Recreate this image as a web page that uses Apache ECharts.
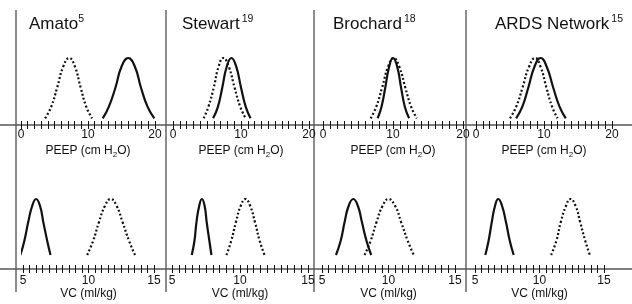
<!DOCTYPE html>
<html>
<head>
<meta charset="utf-8">
<script src="https://cdn.jsdelivr.net/npm/echarts@6/dist/echarts.min.js"></script>
<style>
html,body{margin:0;padding:0;background:#fff}
#chart{width:632px;height:304px}
</style>
</head>
<body>
<div id="chart"></div>
<script>
var FONT = '"Liberation Sans", Arial, Helvetica, sans-serif';

var studies = ['Amato', 'Stewart', 'Brochard', 'ARDS Network'];
var refs = ['5', '19', '18', '15'];
var peepTicks = [0, 10, 20];
var vcTicks = [5, 10, 15];

// relative height of each curve, start .. peak .. end
var peepHeights = [0.1, 0.27, 0.56, 0.87, 1, 0.87, 0.56, 0.27, 0.1];
var vcHeights = [0.2, 0.4, 0.67, 0.9, 1, 0.9, 0.67, 0.4, 0.2];

// PEEP (cm H2O) : solid / dotted
var amatoPeepSolid = [12.2, 13.1, 14.1, 15.0, 16.0, 17.0, 17.9, 18.9, 19.9];
var amatoPeepDot = [3.6, 4.5, 5.4, 6.3, 7.2, 8.05, 8.9, 9.75, 10.6];
var stewartPeepSolid = [5.9, 6.6, 7.25, 7.9, 8.6, 9.3, 10.0, 10.7, 11.4];
var stewartPeepDot = [4.5, 5.2, 6.0, 6.7, 7.4, 8.2, 9.05, 9.9, 10.7];
var brochardPeepSolid = [7.8, 8.35, 8.9, 9.45, 10.0, 10.6, 11.15, 11.7, 12.3];
var brochardPeepDot = [6.8, 7.6, 8.45, 9.3, 10.1, 10.9, 11.75, 12.6, 13.4];
var ardsPeepSolid = [5.9, 6.8, 7.7, 8.6, 9.5, 10.4, 11.35, 12.3, 13.2];
var ardsPeepDot = [5.0, 5.9, 6.85, 7.8, 8.7, 9.5, 10.35, 11.2, 12.0];

// VC (ml/kg) : solid / dotted
var amatoVcSolid = [4.8, 5.1, 5.4, 5.7, 6.0, 6.3, 6.55, 6.85, 7.1];
var amatoVcDot = [9.9, 10.35, 10.8, 11.25, 11.7, 12.15, 12.6, 13.1, 13.55];
var stewartVcSolid = [6.45, 6.65, 6.8, 7.0, 7.2, 7.4, 7.55, 7.75, 7.9];
var stewartVcDot = [9.0, 9.35, 9.7, 10.05, 10.4, 10.75, 11.1, 11.45, 11.8];
var brochardVcSolid = [6.05, 6.4, 6.7, 7.0, 7.35, 7.7, 8.0, 8.35, 8.7];
var brochardVcDot = [8.2, 8.65, 9.1, 9.55, 10.0, 10.5, 10.95, 11.45, 11.9];
var ardsVcSolid = [5.8, 6.05, 6.3, 6.55, 6.8, 7.1, 7.4, 7.7, 8.0];
var ardsVcDot = [10.9, 11.3, 11.65, 12.05, 12.4, 12.8, 13.15, 13.55, 13.9];

var peepCurves = [
  [amatoPeepSolid, amatoPeepDot],
  [stewartPeepSolid, stewartPeepDot],
  [brochardPeepSolid, brochardPeepDot],
  [ardsPeepSolid, ardsPeepDot]
];
var vcCurves = [
  [amatoVcSolid, amatoVcDot],
  [stewartVcSolid, stewartVcDot],
  [brochardVcSolid, brochardVcDot],
  [ardsVcSolid, ardsVcDot]
];

// panel layout
var topLeft = [21, 173, 323, 476], topRight = [155, 309, 463, 612];
var botLeft = [23, 172, 322, 475], botRight = [154, 308, 455, 604];
var sepX = [16, 166, 314, 466];
var titleX = [29, 182, 333, 495];
var topAxisY = 125, botAxisY = 269;

function pairs(xs, hs) {
  return xs.map(function (x, i) { return [x, hs[i]]; });
}

var grids = [], xAxes = [], yAxes = [], series = [], titles = [];

function addPanel(left, right, top, bottom, min, max, step, ticks, name, labelMargin, nameGap, curves, heights) {
  var gi = grids.length;
  grids.push({ left: left, width: right - left, top: top, height: bottom - top });
  var label = {
    show: true, margin: labelMargin, color: '#111', fontSize: 12, fontFamily: FONT,
    formatter: function (v) { return ticks.indexOf(v) >= 0 ? String(v) : ''; }
  };
  xAxes.push({
    gridIndex: gi, type: 'value', position: 'bottom', min: min, max: max, interval: step,
    axisLine: { show: false }, splitLine: { show: false },
    axisTick: { show: true, inside: false, length: 4, lineStyle: { color: '#111', width: 1 } },
    axisLabel: label,
    name: name, nameLocation: 'middle', nameGap: nameGap,
    nameTextStyle: {
      rich: {
        a: { fontSize: 12, fontFamily: FONT, color: '#111', lineHeight: 16 },
        b: { fontSize: 8, fontFamily: FONT, color: '#111', lineHeight: 8, verticalAlign: 'bottom' }
      }
    }
  });
  var xi = xAxes.length - 1;
  xAxes.push({
    gridIndex: gi, type: 'value', position: 'bottom', min: min, max: max, interval: step,
    axisLine: { show: false }, splitLine: { show: false }, axisLabel: { show: false },
    axisTick: { show: true, inside: true, length: 4, lineStyle: { color: '#111', width: 1 } }
  });
  yAxes.push({ gridIndex: gi, type: 'value', min: 0, max: 1, show: false });
  var yi = yAxes.length - 1;
  series.push({
    type: 'line', xAxisIndex: xi, yAxisIndex: yi, data: pairs(curves[0], heights),
    smooth: true, showSymbol: false, clip: false, silent: true,
    lineStyle: { color: '#111', width: 2.2, type: 'solid' }
  });
  series.push({
    type: 'line', xAxisIndex: xi, yAxisIndex: yi, data: pairs(curves[1], heights),
    smooth: true, showSymbol: false, clip: false, silent: true,
    lineStyle: { color: '#111', width: 2.2, type: [2, 2.2] }
  });
}

for (var i = 0; i < 4; i++) {
  addPanel(topLeft[i], topRight[i], 58, topAxisY, 0, 20, 1, peepTicks,
    '{a|PEEP (cm H}{b|2}{a|O)}', 4, 18, peepCurves[i], peepHeights);
  titles.push({
    left: titleX[i], top: 14, padding: 0,
    text: '{t|' + studies[i] + '}{s|' + refs[i] + '}',
    textStyle: {
      fontWeight: 'normal',
      rich: {
        t: { fontSize: 17, fontFamily: FONT, fontWeight: 'normal', color: '#111', lineHeight: 20 },
        s: { fontSize: 10.5, fontFamily: FONT, fontWeight: 'normal', color: '#111', lineHeight: 10, verticalAlign: 'top', padding: [0, 0, 0, i === 0 ? 0 : 2] }
      }
    }
  });
}
for (var j = 0; j < 4; j++) {
  addPanel(botLeft[j], botRight[j], 199, botAxisY, 5, 15, 0.5, vcTicks,
    '{a|VC (ml/kg)}', 6, 17, vcCurves[j], vcHeights);
}

var graphics = [];
sepX.forEach(function (x) {
  graphics.push({ type: 'line', shape: { x1: x, y1: 10, x2: x, y2: 292 }, style: { stroke: '#666', lineWidth: 1.5 }, silent: true });
});
[topAxisY, botAxisY].forEach(function (y) {
  graphics.push({ type: 'line', shape: { x1: 0, y1: y, x2: 632, y2: y }, style: { stroke: '#555', lineWidth: 1.5 }, silent: true });
});

var chart = echarts.init(document.getElementById('chart'), null, { renderer: 'canvas' });
chart.setOption({
  animation: false,
  backgroundColor: '#fff',
  title: titles,
  grid: grids,
  xAxis: xAxes,
  yAxis: yAxes,
  series: series,
  graphic: graphics
});
</script>
</body>
</html>
